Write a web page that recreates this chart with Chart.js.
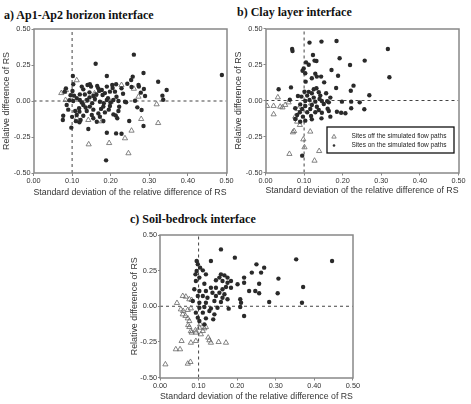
<!DOCTYPE html>
<html>
<head>
<meta charset="utf-8">
<script src="https://cdn.jsdelivr.net/npm/chart.js@4.4.1/dist/chart.umd.min.js"></script>
<style>
  body { margin: 0; background: #fff; }
  #fig { position: relative; width: 471px; height: 404px; overflow: hidden; background: #fff; }
  canvas { position: absolute; }
  .title { position: absolute; font: bold 12px "Liberation Serif", "Times New Roman", serif; line-height: 12px; color: #111; white-space: nowrap; }
</style>
</head>
<body>
<div id="fig">
  <div class="title" style="left:4px; top:9px">a) Ap1-Ap2 horizon interface</div>
  <div class="title" style="left:237px; top:6px">b) Clay layer interface</div>
  <div class="title" style="left:130px; top:213px">c) Soil-bedrock interface</div>
  <canvas id="chartA" width="236" height="200" style="left:0; top:0"></canvas>
  <canvas id="chartB" width="239" height="200" style="left:232px; top:0"></canvas>
  <canvas id="chartC" width="233" height="199" style="left:128px; top:205px"></canvas>
</div>
<script>
const xTitle = 'Standard deviation of the relative difference of RS'
const yTitle = 'Relative difference of RS'
const onLabel = 'Sites on the simulated flow paths'
const offLabel = 'Sites off the simulated flow paths'

// reference lines
const refX = 0.1
const refY = 0

// a) Ap1-Ap2 horizon interface  [sd, relative difference]
const aOn = [
  [0.161,0.259],[0.102,0.174],[0.190,0.174],[0.103,0.116],[0.140,0.111],[0.146,0.116],[0.149,0.100],[0.084,0.088],
  [0.081,0.065],[0.101,0.069],[0.129,0.081],[0.168,0.088],[0.177,0.076],[0.190,0.100],[0.204,0.111],[0.214,0.116],
  [0.228,0.088],[0.179,0.042],[0.198,0.065],[0.211,0.065],[0.105,0.037],[0.120,0.046],[0.155,0.035],[0.093,0.005],
  [0.103,0.000],[0.120,0.007],[0.139,0.007],[0.159,0.014],[0.172,-0.005],[0.190,0.007],[0.207,0.007],[0.220,0.000],
  [0.237,-0.005],[0.086,-0.028],[0.129,-0.028],[0.146,-0.039],[0.181,-0.039],[0.198,-0.035],[0.108,-0.069],[0.119,-0.074],
  [0.138,-0.069],[0.168,-0.086],[0.185,-0.079],[0.220,-0.069],[0.112,-0.097],[0.129,-0.102],[0.151,-0.097],[0.172,-0.109],
  [0.207,-0.093],[0.077,-0.102],[0.122,-0.132],[0.164,-0.144],[0.181,-0.139],[0.217,-0.120],[0.076,-0.132],[0.119,-0.148],
  [0.098,-0.185],[0.142,-0.194],[0.190,-0.220],[0.214,-0.225],[0.228,-0.227],[0.188,-0.412],
  [0.260,0.322],[0.488,0.181],[0.285,0.194],[0.257,0.169],[0.253,0.146],[0.323,0.134],[0.254,0.097],[0.272,0.111],
  [0.273,0.100],[0.286,0.083],[0.345,0.076],[0.278,0.058],[0.289,0.035],[0.334,0.037],[0.336,0.009],[0.240,-0.009],
  [0.263,0.002],[0.269,-0.044],[0.280,-0.062],[0.248,-0.139],[0.285,-0.174],
  [0.112,0.020],[0.125,-0.010],[0.133,0.045],[0.145,0.060],[0.152,-0.015],[0.163,0.045],[0.170,0.070],[0.185,0.055],
  [0.193,0.020],[0.200,-0.010],[0.205,0.090],[0.215,0.030],[0.222,-0.040],[0.232,0.050],[0.118,-0.050],[0.135,-0.045],
  [0.155,-0.060],[0.175,-0.055],[0.195,-0.060],[0.213,-0.100],[0.155,-0.120],[0.090,-0.060],[0.100,-0.110],[0.125,0.100],
  [0.165,0.105],[0.243,0.120],[0.110,-0.140],[0.182,-0.015],[0.145,0.025],[0.096,0.040]
]
const aOff = [
  [0.080,0.065],[0.084,0.076],[0.083,0.007],[0.112,0.144],[0.158,0.053],[0.159,0.042],[0.228,0.111],[0.142,-0.132],
  [0.177,-0.141],[0.143,-0.301],[0.196,-0.292],[0.237,-0.259],[0.246,-0.363],[0.272,0.030],[0.319,-0.023],[0.279,-0.125],
  [0.323,-0.153],[0.254,-0.206],[0.072,0.055],[0.112,-0.120],[0.135,0.000],[0.260,0.085],[0.200,-0.005]
]

// b) Clay layer interface
const bOn = [
  [0.114,0.402],[0.145,0.409],[0.184,0.413],[0.069,0.358],[0.070,0.344],[0.123,0.316],[0.192,0.293],[0.127,0.277],
  [0.132,0.274],[0.099,0.223],[0.096,0.207],[0.219,0.247],[0.103,0.189],[0.171,0.212],[0.129,0.186],[0.120,0.154],
  [0.133,0.166],[0.144,0.166],[0.188,0.172],[0.104,0.131],[0.152,0.126],[0.228,0.103],[0.034,0.078],[0.066,0.091],
  [0.125,0.078],[0.132,0.085],[0.183,0.087],[0.221,0.068],[0.101,0.061],[0.120,0.050],[0.138,0.057],[0.157,0.050],
  [0.084,0.031],[0.093,0.027],[0.108,0.034],[0.125,0.020],[0.142,0.034],[0.168,0.020],[0.103,-0.003],[0.114,0.004],
  [0.129,-0.008],[0.146,-0.003],[0.164,-0.013],[0.198,-0.008],[0.222,-0.008],[0.244,-0.013],[0.090,-0.027],[0.103,-0.038],
  [0.120,-0.031],[0.133,-0.043],[0.151,-0.024],[0.077,-0.054],[0.095,-0.059],[0.116,-0.059],[0.138,-0.066],[0.161,-0.057],
  [0.089,-0.082],[0.108,-0.082],[0.129,-0.082],[0.146,-0.085],[0.164,-0.073],[0.185,-0.078],[0.196,-0.085],[0.207,-0.089],
  [0.222,-0.054],[0.082,-0.101],[0.097,-0.112],[0.118,-0.108],[0.145,-0.124],[0.168,-0.112],[0.077,-0.128],[0.090,-0.147],
  [0.103,-0.140],[0.120,-0.131],[0.095,-0.383],
  [0.317,0.358],[0.257,0.277],[0.321,0.161],[0.269,0.036],[0.256,-0.061],
  [0.105,0.265],[0.112,0.248],[0.063,0.005],[0.140,0.010],[0.112,0.060],[0.160,-0.005]
]
const bOff = [
  [0.032,0.022],[0.021,-0.038],[0.021,-0.096],[0.004,-0.038],[0.038,-0.043],[0.044,-0.048],[0.051,-0.031],[0.060,-0.013],
  [0.077,-0.112],[0.082,-0.147],[0.089,-0.170],[0.074,-0.212],[0.071,-0.221],[0.116,-0.216],[0.101,-0.325],[0.062,-0.371],
  [0.139,-0.351],[0.127,-0.418],[0.098,-0.270],[0.085,-0.060],[0.118,-0.020]
]

// c) Soil-bedrock interface
const cOn = [
  [0.158,0.399],[0.194,0.341],[0.095,0.318],[0.132,0.318],[0.098,0.294],[0.104,0.271],[0.095,0.247],[0.111,0.252],
  [0.119,0.224],[0.092,0.224],[0.102,0.201],[0.093,0.177],[0.158,0.224],[0.167,0.217],[0.175,0.201],[0.154,0.201],
  [0.145,0.182],[0.162,0.177],[0.175,0.165],[0.184,0.177],[0.218,0.201],[0.218,0.165],[0.201,0.154],[0.231,0.107],
  [0.115,0.158],[0.132,0.130],[0.145,0.130],[0.162,0.119],[0.171,0.135],[0.184,0.130],[0.089,0.119],[0.102,0.107],
  [0.119,0.107],[0.136,0.095],[0.154,0.095],[0.167,0.084],[0.098,0.072],[0.111,0.072],[0.123,0.060],[0.145,0.072],
  [0.162,0.060],[0.175,0.049],[0.085,0.037],[0.102,0.025],[0.119,0.025],[0.141,0.037],[0.158,0.030],[0.208,0.049],
  [0.210,0.025],[0.208,-0.005],[0.218,-0.068],[0.102,-0.010],[0.115,-0.005],[0.132,-0.015],[0.149,-0.010],[0.178,-0.017],
  [0.093,-0.045],[0.111,-0.045],[0.128,-0.033],[0.141,-0.057],[0.098,-0.080],[0.119,-0.085],[0.138,-0.092],[0.102,-0.104],
  [0.115,-0.127],
  [0.353,0.329],[0.446,0.318],[0.250,0.294],[0.270,0.271],[0.238,0.236],[0.262,0.236],[0.307,0.194],[0.257,0.158],
  [0.371,0.135],[0.247,0.107],[0.257,0.091],[0.305,0.091],[0.283,0.030],[0.368,0.025]
]
const cOff = [
  [0.014,-0.408],[0.056,-0.244],[0.041,-0.302],[0.052,-0.302],[0.072,-0.403],[0.079,-0.391],[0.080,-0.256],[0.082,-0.185],
  [0.044,0.023],[0.059,0.072],[0.067,0.067],[0.076,0.049],[0.082,0.044],[0.054,-0.022],[0.060,-0.033],[0.072,-0.026],
  [0.080,-0.015],[0.059,-0.057],[0.066,-0.068],[0.072,-0.085],[0.076,-0.104],[0.073,-0.132],[0.076,-0.146],[0.080,-0.174],
  [0.093,-0.244],[0.102,-0.150],[0.111,-0.174],[0.115,-0.155],[0.119,-0.146],[0.104,-0.127],[0.106,-0.197],[0.125,-0.220],
  [0.128,-0.239],[0.132,-0.256],[0.152,-0.251],[0.171,-0.256],[0.092,-0.169],[0.093,-0.185]
]

const toPts = list => list.map(p => ({ x: p[0], y: p[1] }))

// gray box round the plot area
const framePlugin = {
  id: 'frame',
  afterDraw(chart) {
    const { ctx, chartArea: a } = chart
    ctx.save()
    ctx.strokeStyle = '#888'
    ctx.lineWidth = 1.5
    ctx.strokeRect(Math.round(a.left), Math.round(a.top), Math.round(a.right - a.left), Math.round(a.bottom - a.top))
    ctx.restore()
  }
}

// boxed legend inside the plot (panel b only)
const legendBox = {
  id: 'legendBox',
  afterDraw(chart, args, opts) {
    if (!opts.show) return
    const { ctx, chartArea } = chart
    const w = 127, h = 26
    const x = chartArea.right - 4.5 - w
    const y = chartArea.bottom - 19.5 - h
    ctx.save()
    ctx.lineWidth = 1.3
    ctx.strokeStyle = '#111'
    ctx.strokeRect(x, y, w, h)
    ctx.font = '6.5px "Liberation Sans", Arial, sans-serif'
    ctx.fillStyle = '#222'
    ctx.textBaseline = 'middle'
    const items = chart.data.datasets.filter(d => d.label)
    // off first, then on
    items.sort((p, q) => (p.label === offLabel ? -1 : 1))
    items.forEach((ds, i) => {
      const cx = x + 7
      const cy = y + 9.5 + i * 9
      if (ds.pointStyle === 'triangle') {
        ctx.strokeStyle = '#666'
        ctx.lineWidth = 0.8
        ctx.beginPath()
        ctx.moveTo(cx, cy - 2.2)
        ctx.lineTo(cx + 2.2, cy + 1.6)
        ctx.lineTo(cx - 2.2, cy + 1.6)
        ctx.closePath()
        ctx.stroke()
      } else {
        ctx.fillStyle = '#333'
        ctx.beginPath()
        ctx.arc(cx, cy, 1.3, 0, Math.PI * 2)
        ctx.fill()
      }
      ctx.fillStyle = '#222'
      ctx.fillText(ds.label, x + 24.5, cy)
    })
    ctx.restore()
  }
}

Chart.register(framePlugin, legendBox)

const axisFont = '"Liberation Sans", Arial, sans-serif'

function makeChart(id, onList, offList, cfg) {
  const datasets = [
    {
      label: onLabel,
      data: toPts(onList),
      pointStyle: 'circle',
      pointRadius: 2.2,
      backgroundColor: '#2a2a2a',
      borderColor: '#2a2a2a',
      borderWidth: 0
    },
    {
      label: offLabel,
      data: toPts(offList),
      pointStyle: 'triangle',
      pointRadius: 3,
      backgroundColor: 'rgba(255,255,255,0)',
      borderColor: '#666',
      borderWidth: 0.8
    },
    {
      label: '',
      data: [{ x: refX, y: -0.5 }, { x: refX, y: 0.5 }],
      showLine: true,
      pointRadius: 0,
      borderColor: '#444',
      borderWidth: 1,
      borderDash: [3, 3]
    },
    {
      label: '',
      data: [{ x: 0, y: refY }, { x: 0.5, y: refY }],
      showLine: true,
      pointRadius: 0,
      borderColor: '#444',
      borderWidth: 1,
      borderDash: [3, 3]
    }
  ]

  return new Chart(document.getElementById(id), {
    type: 'scatter',
    data: { datasets: datasets },
    options: {
      responsive: false,
      animation: false,
      events: [],
      layout: { padding: { left: 0, top: cfg.top, right: cfg.right, bottom: 0 } },
      plugins: {
        legend: { display: false },
        tooltip: { enabled: false },
        legendBox: { show: !!cfg.legend }
      },
      scales: {
        x: {
          type: 'linear',
          min: 0,
          max: 0.5,
          afterFit: s => { s.height = cfg.xh },
          ticks: {
            stepSize: 0.1,
            maxRotation: 0,
            padding: 1,
            color: '#333',
            font: { family: axisFont, size: 7.3 },
            callback: v => v.toFixed(2)
          },
          grid: { drawOnChartArea: false, tickLength: 3, color: '#888' },
          border: { display: false },
          title: {
            display: true,
            text: xTitle,
            color: '#333',
            padding: { top: 0, bottom: cfg.xtPad },
            font: { family: axisFont, size: 8.9 }
          }
        },
        y: {
          type: 'linear',
          min: -0.5,
          max: 0.5,
          afterFit: s => { s.width = cfg.yw },
          ticks: {
            stepSize: 0.25,
            padding: 1,
            color: '#333',
            font: { family: axisFont, size: 7.3 },
            callback: v => v.toFixed(2)
          },
          grid: { drawOnChartArea: false, tickLength: 2, color: '#888' },
          border: { display: false },
          title: {
            display: true,
            text: yTitle,
            color: '#333',
            padding: { top: cfg.ytPad, bottom: 0 },
            font: { family: axisFont, size: 8.9 }
          }
        }
      }
    }
  })
}

makeChart('chartA', aOn, aOff, { top: 29, right: 9.5, xh: 27, yw: 33.5, xtPad: 2.0, ytPad: 1.5 })
makeChart('chartB', bOn, bOff, { top: 28.5, right: 12.5, xh: 27.5, yw: 33.5, xtPad: 3.7, ytPad: 1.0, legend: true })
makeChart('chartC', cOn, cOff, { top: 30, right: 8, xh: 26.5, yw: 32, xtPad: 2.0, ytPad: 1.7 })
</script>
</body>
</html>
